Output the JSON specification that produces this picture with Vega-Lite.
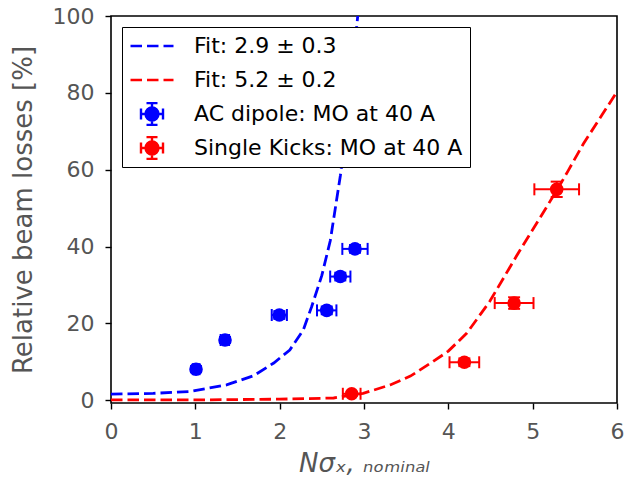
{
  "$schema": "https://vega.github.io/schema/vega-lite/v6.json",
  "width": 506,
  "height": 387,
  "autosize": {"type": "none"},
  "padding": {"left": 111, "top": 16, "right": 8, "bottom": 78},
  "background": "white",
  "config": {
    "font": "DejaVu Sans",
    "view": {"stroke": "black", "strokeWidth": 1.6},
    "axis": {
      "grid": false,
      "domain": false,
      "labelFlush": false,
      "labelOverlap": false,
      "tickColor": "black",
      "tickWidth": 1.4,
      "tickSize": 6,
      "labelFont": "DejaVu Sans",
      "labelFontSize": 22,
      "labelColor": "#555555",
      "titleFont": "DejaVu Sans",
      "titleFontSize": 26,
      "titleColor": "#555555",
      "titleFontWeight": "normal"
    }
  },
  "datasets": {
    "fits": [
      {"series": "Fit: 2.9 ± 0.3", "x": 0, "y": 1.6},
      {"series": "Fit: 2.9 ± 0.3", "x": 0.5, "y": 1.8},
      {"series": "Fit: 2.9 ± 0.3", "x": 0.94, "y": 2.3},
      {"series": "Fit: 2.9 ± 0.3", "x": 1.37, "y": 4.0},
      {"series": "Fit: 2.9 ± 0.3", "x": 1.69, "y": 6.4},
      {"series": "Fit: 2.9 ± 0.3", "x": 1.93, "y": 9.7},
      {"series": "Fit: 2.9 ± 0.3", "x": 2.12, "y": 13.1},
      {"series": "Fit: 2.9 ± 0.3", "x": 2.28, "y": 18.3},
      {"series": "Fit: 2.9 ± 0.3", "x": 2.38, "y": 24.4},
      {"series": "Fit: 2.9 ± 0.3", "x": 2.5, "y": 32.5},
      {"series": "Fit: 2.9 ± 0.3", "x": 2.6, "y": 41.5},
      {"series": "Fit: 2.9 ± 0.3", "x": 2.72, "y": 58.5},
      {"series": "Fit: 2.9 ± 0.3", "x": 2.82, "y": 76},
      {"series": "Fit: 2.9 ± 0.3", "x": 2.93, "y": 101},
      {"series": "Fit: 5.2 ± 0.2", "x": 0, "y": 0.1},
      {"series": "Fit: 5.2 ± 0.2", "x": 1, "y": 0.1},
      {"series": "Fit: 5.2 ± 0.2", "x": 2, "y": 0.3},
      {"series": "Fit: 5.2 ± 0.2", "x": 2.64, "y": 0.6},
      {"series": "Fit: 5.2 ± 0.2", "x": 2.99, "y": 1.8},
      {"series": "Fit: 5.2 ± 0.2", "x": 3.31, "y": 4.0},
      {"series": "Fit: 5.2 ± 0.2", "x": 3.55, "y": 6.3},
      {"series": "Fit: 5.2 ± 0.2", "x": 3.82, "y": 10.1},
      {"series": "Fit: 5.2 ± 0.2", "x": 4.0, "y": 12.8},
      {"series": "Fit: 5.2 ± 0.2", "x": 4.22, "y": 17.5},
      {"series": "Fit: 5.2 ± 0.2", "x": 4.49, "y": 25.7},
      {"series": "Fit: 5.2 ± 0.2", "x": 4.81, "y": 37.6},
      {"series": "Fit: 5.2 ± 0.2", "x": 5.09, "y": 47.6},
      {"series": "Fit: 5.2 ± 0.2", "x": 5.285, "y": 54.6},
      {"series": "Fit: 5.2 ± 0.2", "x": 5.42, "y": 59.7},
      {"series": "Fit: 5.2 ± 0.2", "x": 5.6, "y": 66.7},
      {"series": "Fit: 5.2 ± 0.2", "x": 6.0, "y": 80.3}
    ],
    "meas": [
      {"series": "AC dipole: MO at 40 A", "x": 1.008, "y": 8.1, "xlo": 0.97, "xhi": 1.05, "ylo": 7.3, "yhi": 8.9},
      {"series": "AC dipole: MO at 40 A", "x": 1.352, "y": 15.7, "xlo": 1.3, "xhi": 1.4, "ylo": 14.9, "yhi": 16.5},
      {"series": "AC dipole: MO at 40 A", "x": 1.996, "y": 22.2, "xlo": 1.906, "xhi": 2.086, "ylo": 21.2, "yhi": 23.2},
      {"series": "AC dipole: MO at 40 A", "x": 2.558, "y": 23.4, "xlo": 2.443, "xhi": 2.673, "ylo": 22.4, "yhi": 24.4},
      {"series": "AC dipole: MO at 40 A", "x": 2.719, "y": 32.2, "xlo": 2.599, "xhi": 2.839, "ylo": 31.2, "yhi": 33.2},
      {"series": "AC dipole: MO at 40 A", "x": 2.893, "y": 39.4, "xlo": 2.743, "xhi": 3.043, "ylo": 38.4, "yhi": 40.4},
      {"series": "Single Kicks: MO at 40 A", "x": 2.854, "y": 1.7, "xlo": 2.749, "xhi": 2.959, "ylo": 1.2, "yhi": 2.2},
      {"series": "Single Kicks: MO at 40 A", "x": 4.19, "y": 9.9, "xlo": 4.014, "xhi": 4.366, "ylo": 8.9, "yhi": 10.9},
      {"series": "Single Kicks: MO at 40 A", "x": 4.78, "y": 25.3, "xlo": 4.55, "xhi": 5.01, "ylo": 23.8, "yhi": 26.8},
      {"series": "Single Kicks: MO at 40 A", "x": 5.285, "y": 54.9, "xlo": 5.02, "xhi": 5.55, "ylo": 52.9, "yhi": 56.9}
    ]
  },
  "encoding": {
    "x": {
      "field": "x",
      "type": "quantitative",
      "scale": {"domain": [0, 6], "nice": false, "zero": false},
      "axis": {
        "values": [0, 1, 2, 3, 4, 5, 6],
        "title": "Nσₓ, ₙₒₘᵢₙₐₗ",
        "titleFontStyle": "italic",
        "labelPadding": 12,
        "titlePadding": 8
      }
    },
    "y": {
      "field": "y",
      "type": "quantitative",
      "scale": {"domain": [-0.7, 100], "nice": false, "zero": false},
      "axis": {
        "values": [0, 20, 40, 60, 80, 100],
        "title": "Relative beam losses [%]",
        "labelPadding": 11,
        "titlePadding": 16
      }
    },
    "color": {
      "field": "series",
      "type": "nominal",
      "scale": {
        "domain": ["Fit: 2.9 ± 0.3", "Fit: 5.2 ± 0.2", "AC dipole: MO at 40 A", "Single Kicks: MO at 40 A"],
        "range": ["#0000ff", "#ff0000", "#0000ff", "#ff0000"]
      },
      "legend": {
        "title": null,
        "orient": "top-left",
        "offset": 11,
        "padding": 7,
        "fillColor": "white",
        "strokeColor": "black",
        "cornerRadius": 0,
        "labelFont": "DejaVu Sans",
        "labelFontSize": 22,
        "labelColor": "black",
        "labelLimit": 400,
        "symbolSize": 1849,
        "symbolStrokeWidth": 2.4,
        "symbolOffset": 0,
        "labelOffset": 19,
        "rowPadding": 10,
        "clipHeight": 24,
        "encoding": {
          "symbols": {
            "shape": {"value": {"expr": "datum.index < 2 ? 'M-1,0L-0.465,0M-0.233,0L0.302,0M0.535,0L1,0' : 'M-0.512,0L0.512,0M0,-0.512L0,0.512M-0.512,-0.256L-0.512,0.256M0.512,-0.256L0.512,0.256M-0.256,-0.512L0.256,-0.512M-0.256,0.512L0.256,0.512M0.3,0A0.3,0.3,0,1,1,-0.3,0A0.3,0.3,0,1,1,0.3,0Z'"}},
            "fill": {"value": {"expr": "datum.index < 2 ? 'transparent' : (datum.index == 2 ? '#0000ff' : '#ff0000')"}},
            "stroke": {"value": {"expr": "datum.index % 2 == 0 ? '#0000ff' : '#ff0000'"}}
          }
        }
      }
    }
  },
  "layer": [
    {
      "data": {"name": "fits"},
      "mark": {"type": "line", "strokeDash": [11.5, 5], "strokeWidth": 2.8, "clip": true},
      "encoding": {}
    },
    {
      "data": {"name": "meas"},
      "mark": {"type": "rule", "strokeWidth": 2},
      "encoding": {
        "x": {"field": "xlo", "type": "quantitative"},
        "x2": {"field": "xhi"}
      }
    },
    {
      "data": {"name": "meas"},
      "mark": {"type": "rule", "strokeWidth": 2},
      "encoding": {
        "y": {"field": "ylo", "type": "quantitative"},
        "y2": {"field": "yhi"}
      }
    },
    {
      "data": {"name": "meas"},
      "mark": {"type": "point", "shape": "stroke", "angle": 90, "size": 144, "strokeWidth": 2, "filled": false, "opacity": 1},
      "encoding": {"x": {"field": "xlo", "type": "quantitative"}}
    },
    {
      "data": {"name": "meas"},
      "mark": {"type": "point", "shape": "stroke", "angle": 90, "size": 144, "strokeWidth": 2, "filled": false, "opacity": 1},
      "encoding": {"x": {"field": "xhi", "type": "quantitative"}}
    },
    {
      "data": {"name": "meas"},
      "mark": {"type": "point", "shape": "stroke", "angle": 0, "size": 144, "strokeWidth": 2, "filled": false, "opacity": 1},
      "encoding": {"y": {"field": "ylo", "type": "quantitative"}}
    },
    {
      "data": {"name": "meas"},
      "mark": {"type": "point", "shape": "stroke", "angle": 0, "size": 144, "strokeWidth": 2, "filled": false, "opacity": 1},
      "encoding": {"y": {"field": "yhi", "type": "quantitative"}}
    },
    {
      "data": {"name": "meas"},
      "mark": {"type": "point", "shape": "circle", "filled": true, "size": 185, "opacity": 1},
      "encoding": {}
    }
  ]
}
